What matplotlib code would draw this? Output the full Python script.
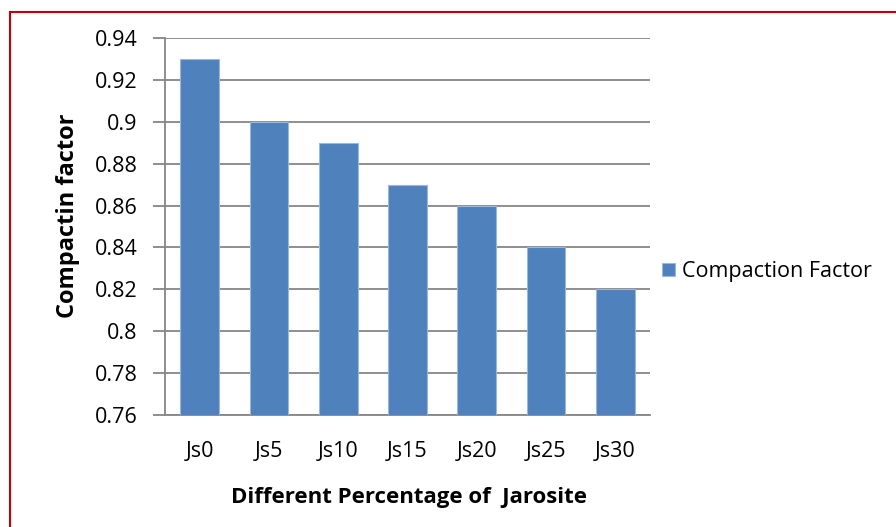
import matplotlib.pyplot as plt
from matplotlib.lines import Line2D

# Compaction factor for each jarosite replacement level
mixes = ["Js0", "Js5", "Js10", "Js15", "Js20", "Js25", "Js30"]
compaction = [0.93, 0.90, 0.89, 0.87, 0.86, 0.84, 0.82]
yticks = [0.76, 0.78, 0.80, 0.82, 0.84, 0.86, 0.88, 0.90, 0.92, 0.94]
ytick_labels = ["0.76", "0.78", "0.8", "0.82", "0.84", "0.86", "0.88", "0.9", "0.92", "0.94"]

plt.rcParams['font.family'] = ['Open Sans', 'DejaVu Sans']

fig = plt.figure(figsize=(8.96, 5.27), dpi=100)
ax = fig.add_axes([0.1842, 0.2125, 0.5412, 0.7154])

bar_color = "#4F81BD"
grid_color = "#868686"

ax.bar(range(len(mixes)), compaction, width=0.56, bottom=0,
       color=bar_color, edgecolor="#9BB7DA", linewidth=0.8,
       label="Compaction Factor", zorder=3)

ax.set_xlim(-0.5, len(mixes) - 0.5)
ax.set_ylim(0.76, 0.94)
ax.set_yticks(yticks)
ax.set_yticklabels(ytick_labels)
ax.set_xticks(range(len(mixes)))
ax.set_xticklabels(mixes)

ax.yaxis.grid(True, color=grid_color, linewidth=1.3, zorder=0)
ax.set_axisbelow(True)
for side in ["top", "right"]:
    ax.spines[side].set_visible(False)
ax.spines["left"].set_color(grid_color)
ax.spines["bottom"].set_color(grid_color)
ax.spines["left"].set_linewidth(1.3)
ax.spines["bottom"].set_linewidth(1.3)

ax.tick_params(axis="y", length=9, width=1.3, color=grid_color,
               labelsize=15.5, pad=11)
ax.tick_params(axis="x", length=0, labelsize=15.5, pad=19)

ax.set_ylabel("Compactin factor", fontsize=17, fontweight="bold")
ax.yaxis.set_label_coords(-0.175, 0.528)
ax.set_xlabel("Different Percentage of  Jarosite", fontsize=16,
              fontweight="bold")
ax.xaxis.set_label_coords(0.503, -0.191)

ax.legend(loc="center left", bbox_to_anchor=(1.0, 0.38), frameon=False,
          fontsize=15.5, handlelength=0.6, handleheight=0.6,
          handletextpad=0.35, borderaxespad=0.15)

# dark red frame around the chart area
fig.add_artist(Line2D([9.5 / 896, 9.5 / 896], [0, 1 - 11.5 / 527],
                      color="#C0000B", linewidth=1.5, transform=fig.transFigure))
fig.add_artist(Line2D([9.5 / 896, 1], [1 - 11.5 / 527, 1 - 11.5 / 527],
                      color="#C0000B", linewidth=1.5, transform=fig.transFigure))

fig.savefig("out.png", dpi=100)
